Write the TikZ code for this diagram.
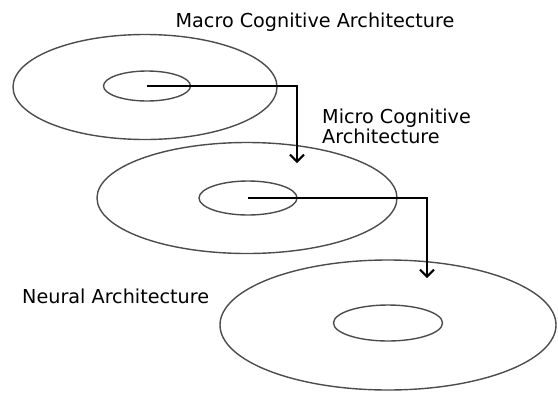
\documentclass[tikz,border=0pt]{standalone}
\usepackage{fontspec}
\setmainfont{DejaVu Sans}
\usetikzlibrary{shapes.geometric,arrows.meta}
\begin{document}
\begin{tikzpicture}[x=1pt,y=-1pt,
  disc/.style={draw=black!70,line width=1.4pt,ellipse,inner sep=0pt},
  conn/.style={draw=black,line width=2pt,-{Straight Barb[length=7pt,width=14pt,line width=2pt]}},
  lbl/.style={font=\fontsize{19.2}{20}\selectfont,inner sep=0pt}]
\useasboundingbox (0,0) rectangle (558,392);
\node[disc,minimum width=264pt,minimum height=105pt] (o1) at (145,87) {};
\node[disc,minimum width=87pt,minimum height=30pt] (i1) at (147,86) {};
\node[disc,minimum width=300pt,minimum height=111pt] (o2) at (247,198) {};
\node[disc,minimum width=98pt,minimum height=34pt] (i2) at (248,198) {};
\node[disc,minimum width=336pt,minimum height=130pt] (o3) at (388,325) {};
\node[disc,minimum width=109pt,minimum height=36pt] (i3) at (388,323) {};
\coordinate (e1) at (297,163);
\coordinate (e2) at (427,278);
\draw[conn] (i1.center) -| (e1);
\draw[conn] (i2.center) -| (e2);
\node[lbl,anchor=base] (t1) at (315,27) {Macro Cognitive Architecture};
\node[lbl,anchor=base west] (t2a) at (322,123) {Micro Cognitive};
\node[lbl,anchor=base west] (t2b) at (322,143) {Architecture};
\node[lbl,anchor=base west] (t3) at (22,303) {Neural Architecture};
\end{tikzpicture}
\end{document}
